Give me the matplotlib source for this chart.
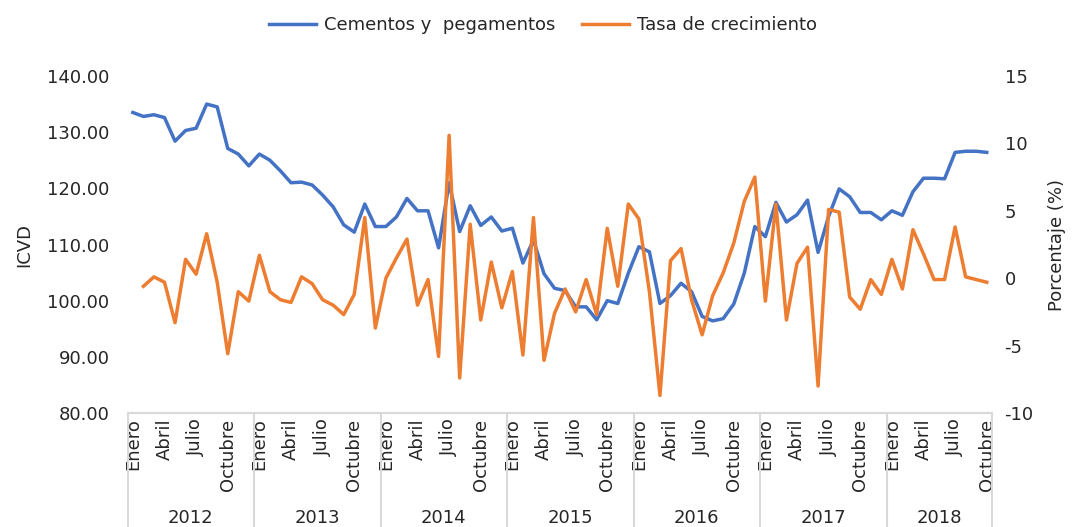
import matplotlib
matplotlib.use("Agg")
import matplotlib.pyplot as plt
import matplotlib.transforms as mtransforms

plt.rcParams['font.family'] = ['DejaVu Sans']
plt.rcParams['axes.unicode_minus'] = False

# ICVD mensual, enero 2012 - octubre 2018
icvd = [133.5, 132.8, 133.1, 132.6, 128.4, 130.3, 130.7, 135.0, 134.5, 127.1, 126.1, 124.0,
        126.1, 125.0, 123.1, 121.0, 121.1, 120.6, 118.8, 116.7, 113.5, 112.2, 117.2, 113.2,
        113.2, 114.9, 118.2, 116.0, 116.0, 109.4, 121.0, 112.3, 116.9, 113.4, 114.9, 112.4,
        112.9, 106.7, 110.8, 104.8, 102.2, 101.8, 98.9, 98.9, 96.6, 100.0, 99.5, 104.9,
        109.6, 108.7, 99.5, 100.9, 103.1, 101.6, 97.2, 96.4, 96.8, 99.4, 104.9, 113.2,
        111.4, 117.5, 114.0, 115.3, 117.9, 108.6, 115.0, 119.9, 118.5, 115.7, 115.7, 114.4,
        116.0, 115.2, 119.4, 121.8, 121.8, 121.7, 126.4, 126.6, 126.6, 126.4]

# Tasa de crecimiento mensual (%), sin dato en enero 2012
tasa = [None, -0.6, 0.1, -0.3, -3.3, 1.4, 0.3, 3.3, -0.3, -5.6, -1.0, -1.7,
        1.7, -1.0, -1.6, -1.8, 0.1, -0.4, -1.6, -2.0, -2.7, -1.2, 4.5, -3.7,
        0.0, 1.5, 2.9, -2.0, -0.1, -5.8, 10.6, -7.4, 4.0, -3.1, 1.2, -2.2,
        0.5, -5.7, 4.5, -6.1, -2.6, -0.8, -2.5, -0.1, -2.7, 3.7, -0.6, 5.5,
        4.4, -1.0, -8.7, 1.3, 2.2, -1.6, -4.2, -1.3, 0.4, 2.6, 5.7, 7.5,
        -1.7, 5.5, -3.1, 1.1, 2.3, -8.0, 5.1, 4.9, -1.4, -2.3, -0.1, -1.2,
        1.4, -0.8, 3.6, 1.8, -0.1, -0.1, 3.8, 0.1, -0.1, -0.3]

years = ['2012', '2013', '2014', '2015', '2016', '2017', '2018']
months_per_year = [12, 12, 12, 12, 12, 12, 10]
month_names = ['Enero', '', '', 'Abril', '', '', 'Julio', '', '', 'Octubre', '', '']

blue = '#4472C4'
orange = '#ED7D31'
grid_gray = '#D9D9D9'
text_color = '#262626'
fs = 13

fig = plt.figure(figsize=(10.75, 5.27), dpi=100)
ax = fig.add_axes([0.1187, 0.2163, 0.9228 - 0.1187, 0.8558 - 0.2163])
ax2 = ax.twinx()

x = list(range(len(icvd)))
l1, = ax.plot(x, icvd, color=blue, lw=2.5, solid_joinstyle='round', label='Cementos y  pegamentos')
tx = [i for i, v in enumerate(tasa) if v is not None]
ty = [v for v in tasa if v is not None]
l2, = ax2.plot(tx, ty, color=orange, lw=2.5, solid_joinstyle='round', label='Tasa de crecimiento')

ax.set_xlim(-0.5, len(icvd) - 0.5)
ax.set_ylim(80, 140)
ax.set_yticks(range(80, 141, 10))
ax.set_yticklabels([f'{v:.2f}' for v in range(80, 141, 10)])
ax2.set_ylim(-10, 15)
ax2.set_yticks(range(-10, 16, 5))

for a in (ax, ax2):
    for s in ('top', 'left', 'right'):
        a.spines[s].set_visible(False)
    a.spines['bottom'].set_color(grid_gray)
    a.spines['bottom'].set_linewidth(1.5)
    a.tick_params(axis='both', length=0, labelsize=fs, colors=text_color)
ax.tick_params(axis='y', pad=13)
ax2.tick_params(axis='y', pad=9)

# etiquetas de meses
ticks, labels = [], []
i = 0
for n in months_per_year:
    for m in range(n):
        if month_names[m]:
            ticks.append(i)
            labels.append(month_names[m])
        i += 1
ax.set_xticks(ticks)
ax.set_xticklabels(labels, rotation=90, va='top', ha='center')
ax.tick_params(axis='x', pad=4)

# separadores y etiquetas de año
trans = mtransforms.blended_transform_factory(ax.transData, ax.transAxes)
start = 0
edges = [-0.5]
for yr, n in zip(years, months_per_year):
    ax.text(start - 0.5 + n / 2, -0.312, yr, transform=trans, ha='center', va='center',
            fontsize=fs, color=text_color)
    start += n
    edges.append(start - 0.5)
for e in edges:
    ax.plot([e, e], [0, -0.34], transform=trans, color=grid_gray, lw=1.5, clip_on=False)

ax.set_ylabel('ICVD', fontsize=fs, color=text_color, labelpad=10)
ax2.set_ylabel('Porcentaje (%)', fontsize=fs, color=text_color, labelpad=10)

fig.legend([l1, l2], [l1.get_label(), l2.get_label()], loc='center', bbox_to_anchor=(0.505, 0.952),
           ncol=2, frameon=False, fontsize=fs, handlelength=2.6, handletextpad=0.45,
           columnspacing=1.5, labelcolor=text_color)

fig.savefig('out.png', dpi=100)
